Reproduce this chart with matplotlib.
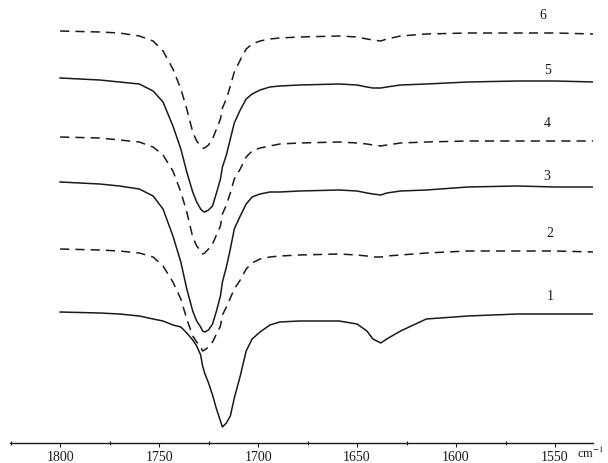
import matplotlib.pyplot as plt
from matplotlib.ticker import MultipleLocator

# wavenumber grid, cm-1
wn = [1800, 1780, 1770, 1760, 1753, 1748, 1743, 1739, 1736, 1733, 1731,
      1729, 1728, 1727, 1725, 1723, 1721, 1719, 1718, 1716, 1714,
      1712, 1709, 1706, 1703, 1699, 1694, 1689, 1679, 1659, 1650,
      1645, 1642, 1638, 1635, 1628, 1615, 1594, 1569, 1550, 1530]

# stacked spectra (a.u., offset already included)
s1 = [1.31, 1.30, 1.29, 1.27, 1.24, 1.22, 1.18, 1.16, 1.10, 1.03, 0.97,
      0.88, 0.77, 0.70, 0.60, 0.48, 0.34, 0.22, 0.16, 0.20, 0.27,
      0.45, 0.67, 0.92, 1.04, 1.11, 1.18, 1.21, 1.22, 1.22, 1.19,
      1.12, 1.04, 1.00, 1.04, 1.12, 1.24, 1.27, 1.29, 1.29, 1.29]
s2 = [1.94, 1.93, 1.92, 1.90, 1.86, 1.77, 1.61, 1.44, 1.24, 1.07, 1.01,
      0.96, 0.92, 0.93, 0.96, 1.01, 1.09, 1.17, 1.28, 1.36, 1.45,
      1.54, 1.63, 1.74, 1.80, 1.84, 1.86, 1.87, 1.88, 1.89, 1.88,
      1.87, 1.86, 1.86, 1.87, 1.88, 1.90, 1.92, 1.92, 1.92, 1.91]
s3 = [2.61, 2.59, 2.57, 2.54, 2.47, 2.34, 2.07, 1.81, 1.54, 1.32, 1.22,
      1.16, 1.12, 1.11, 1.13, 1.19, 1.32, 1.47, 1.61, 1.76, 1.94,
      2.14, 2.27, 2.39, 2.46, 2.49, 2.51, 2.51, 2.52, 2.53, 2.52,
      2.50, 2.49, 2.48, 2.50, 2.52, 2.53, 2.56, 2.57, 2.56, 2.56]
s4 = [3.06, 3.05, 3.03, 3.01, 2.96, 2.88, 2.72, 2.51, 2.31, 2.06, 1.97,
      1.92, 1.89, 1.90, 1.94, 1.99, 2.08, 2.17, 2.29, 2.38, 2.50,
      2.64, 2.74, 2.86, 2.92, 2.95, 2.97, 2.99, 3.00, 3.01, 3.00,
      2.99, 2.98, 2.97, 2.98, 3.00, 3.01, 3.02, 3.02, 3.02, 3.02]
s5 = [3.65, 3.63, 3.61, 3.59, 3.52, 3.41, 3.17, 2.94, 2.71, 2.51, 2.41,
      2.34, 2.32, 2.31, 2.33, 2.37, 2.50, 2.64, 2.76, 2.88, 3.04,
      3.20, 3.33, 3.44, 3.49, 3.53, 3.56, 3.57, 3.58, 3.59, 3.58,
      3.56, 3.55, 3.55, 3.56, 3.58, 3.59, 3.61, 3.62, 3.62, 3.61]
s6 = [4.12, 4.11, 4.10, 4.07, 4.02, 3.92, 3.74, 3.54, 3.34, 3.11, 3.02,
      2.97, 2.95, 2.95, 2.98, 3.04, 3.14, 3.24, 3.35, 3.44, 3.57,
      3.71, 3.83, 3.94, 3.99, 4.02, 4.04, 4.05, 4.06, 4.07, 4.06,
      4.04, 4.03, 4.02, 4.04, 4.07, 4.09, 4.10, 4.10, 4.10, 4.09]

labels = ["1", "2", "3", "4", "5", "6"]
label_wn = [1552.5, 1552.5, 1554, 1554, 1554, 1556]
label_y = [1.48, 2.11, 2.67, 3.21, 3.74, 4.29]

ink = "#1a1a1a"
plt.rcParams['font.family'] = ['Liberation Serif', 'DejaVu Serif']
plt.rcParams['mathtext.fontset'] = 'stix'

fig = plt.figure(figsize=(6.08, 4.64), dpi=100)
ax = fig.add_axes([10 / 608, 20 / 464, 583 / 608, 444 / 464])

spectra = [s1, s2, s3, s4, s5, s6]
for i, s in enumerate(spectra):
    if i % 2 == 0:
        ax.plot(wn, s, color=ink, lw=1.1, solid_joinstyle='round')
    else:
        ax.plot(wn, s, color=ink, lw=1.1, linestyle=(0, (6, 4)))

for lab, x, y in zip(labels, label_wn, label_y):
    ax.text(x, y, lab, fontsize=10, color=ink, ha='center', va='center')

ax.set_xlim(1825.3, 1530.8)
ax.set_ylim(0, 4.44)
for side in ['left', 'right', 'top']:
    ax.spines[side].set_visible(False)
ax.spines['bottom'].set_color(ink)
ax.spines['bottom'].set_linewidth(1.0)
ax.set_yticks([])
ax.xaxis.set_major_locator(MultipleLocator(50))
ax.xaxis.set_minor_locator(MultipleLocator(25))
ax.tick_params(axis='x', which='major', direction='out', length=3,
               width=0.8, colors=ink, labelsize=10, pad=2)
ax.tick_params(axis='x', which='minor', direction='inout', length=3,
               width=0.8, colors=ink)

# unit label at the right end of the axis
fig.text(604 / 608, 6 / 464, "cm$^{-1}$", fontsize=9, color=ink,
         ha='right', va='baseline')

fig.savefig("out.png", dpi=100)
